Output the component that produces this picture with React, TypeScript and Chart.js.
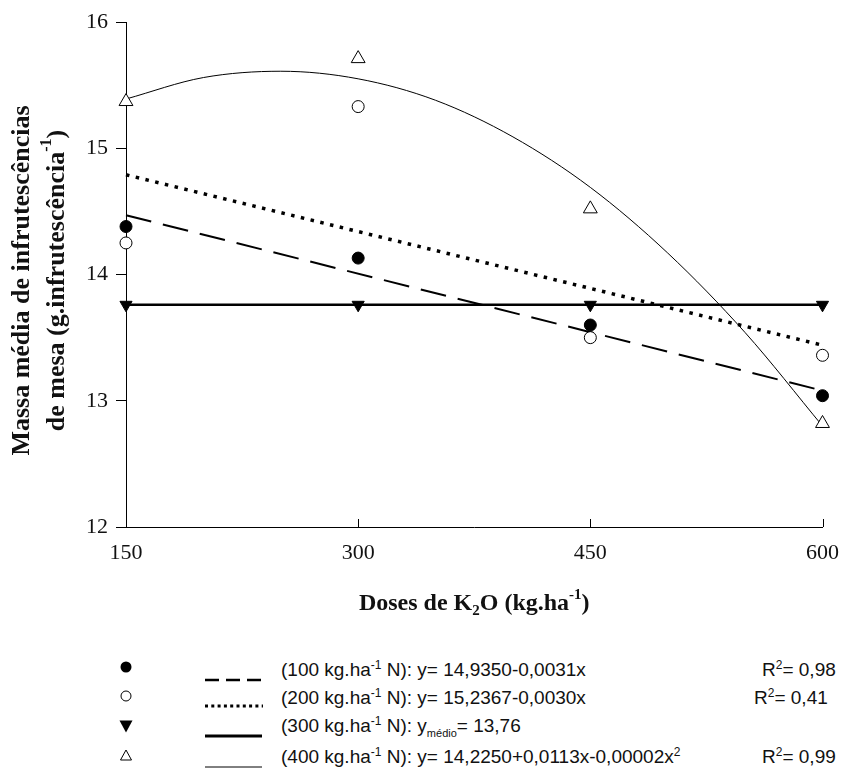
import React, { useEffect, useRef } from 'react';
import { Chart, registerables } from 'chart.js';
Chart.register(...registerables);

// ---- data ----
const doses = [150, 300, 450, 600];
const obs100N = [14.38, 14.13, 13.6, 13.04];
const obs200N = [14.25, 15.33, 13.5, 13.36];
const obs300N = [13.76, 13.76, 13.76, 13.76];
const obs400N = [15.37, 15.71, 14.52, 12.82];

const fitLineX = [150, 600];
const fit100N = [14.47, 13.08];
const fit200N = [14.79, 13.44];
const fit300N = [13.76, 13.76];
const fitCurveX = [150, 200, 250, 300, 350, 400, 450, 500, 550, 600];
const fit400N = [15.39, 15.56, 15.61, 15.55, 15.38, 15.09, 14.69, 14.17, 13.54, 12.8];

const xTickValues = [150, 300, 450, 600];
const yTickValues = [12, 13, 14, 15, 16];

const SERIF = "'Liberation Serif', 'Times New Roman', serif";
const SANS = "'Liberation Sans', Arial, sans-serif";

type Seg = { t: string; k?: 'sup' | 'sub' };

function drawRich(ctx: CanvasRenderingContext2D, segs: Seg[], size: number, cx: number, cy: number, rot: number) {
  ctx.save();
  ctx.translate(cx, cy);
  ctx.rotate(rot);
  ctx.textBaseline = 'middle';
  ctx.textAlign = 'left';
  ctx.fillStyle = '#111';
  const fontFor = (s: Seg) => `bold ${s.k ? Math.round(size * 0.62) : size}px ${SERIF}`;
  let total = 0;
  segs.forEach((s) => {
    ctx.font = fontFor(s);
    total += ctx.measureText(s.t).width;
  });
  let x = -total / 2;
  segs.forEach((s) => {
    ctx.font = fontFor(s);
    const dy = s.k === 'sup' ? -size * 0.38 : s.k === 'sub' ? size * 0.28 : 0;
    ctx.fillText(s.t, x, dy);
    x += ctx.measureText(s.t).width;
  });
  ctx.restore();
}

const decor = {
  id: 'decor',
  afterDraw(chart: any) {
    const ctx = chart.ctx as CanvasRenderingContext2D;
    const xs = chart.scales.x;
    const ys = chart.scales.y;
    ctx.save();
    ctx.strokeStyle = '#000';
    ctx.lineWidth = 1;
    xTickValues.forEach((v) => {
      const px = Math.round(xs.getPixelForValue(v)) + 0.5;
      ctx.beginPath();
      ctx.moveTo(px, ys.bottom);
      ctx.lineTo(px, ys.bottom - 8);
      ctx.stroke();
    });
    ctx.restore();
    const midY = (ys.top + ys.bottom) / 2 + 6;
    drawRich(ctx, [{ t: 'Massa média de infrutescências' }], 26, 22, midY, -Math.PI / 2);
    drawRich(ctx, [{ t: 'de mesa (g.infrutescência' }, { t: '-1', k: 'sup' }, { t: ')' }], 26, 57, midY, -Math.PI / 2);
    drawRich(
      ctx,
      [{ t: 'Doses de K' }, { t: '2', k: 'sub' }, { t: 'O (kg.ha' }, { t: '-1', k: 'sup' }, { t: ')' }],
      24,
      (xs.left + xs.right) / 2,
      604,
      0
    );
  },
};

function pts(xv: number[], yv: number[]) {
  return xv.map((x, i) => ({ x, y: yv[i] }));
}

function ChartView() {
  const ref = useRef<HTMLCanvasElement | null>(null);
  useEffect(() => {
    if (!ref.current) return;
    const lineBase = { showLine: true, pointRadius: 0, borderColor: '#000', fill: false, order: 2, clip: false as any };
    const chart = new Chart(ref.current, {
      type: 'scatter',
      data: {
        datasets: [
          { ...lineBase, label: 'fit100', data: pts(fitLineX, fit100N), borderWidth: 2, borderDash: [26, 12] },
          { ...lineBase, label: 'fit200', data: pts(fitLineX, fit200N), borderWidth: 3.5, borderDash: [3.5, 6.5] },
          { ...lineBase, label: 'fit300', data: pts(fitLineX, fit300N), borderWidth: 2.5 },
          { ...lineBase, label: 'fit400', data: pts(fitCurveX, fit400N), borderWidth: 1, cubicInterpolationMode: 'monotone' },
          { label: '100N', data: pts(doses, obs100N), pointStyle: 'circle', pointRadius: 6, backgroundColor: '#000', borderColor: '#000', borderWidth: 1, order: 0, clip: false as any },
          { label: '200N', data: pts(doses, obs200N), pointStyle: 'circle', pointRadius: 6, backgroundColor: '#fff', borderColor: '#000', borderWidth: 1, order: 0, clip: false as any },
          { label: '300N', data: pts(doses, obs300N), pointStyle: 'triangle', pointRotation: 180, pointRadius: 7, backgroundColor: '#000', borderColor: '#000', borderWidth: 1, order: 0, clip: false as any },
          { label: '400N', data: pts(doses, obs400N), pointStyle: 'triangle', pointRadius: 8, backgroundColor: '#fff', borderColor: '#000', borderWidth: 1, order: 0, clip: false as any },
        ] as any,
      },
      options: {
        animation: false,
        responsive: false,
        events: [],
        layout: { padding: { top: 22, right: 19, left: 0, bottom: 0 } },
        plugins: { legend: { display: false }, tooltip: { enabled: false }, title: { display: false } },
        scales: {
          x: {
            type: 'linear',
            min: 150,
            max: 600,
            afterBuildTicks: (s: any) => { s.ticks = xTickValues.map((v) => ({ value: v })); },
            afterFit: (s: any) => { s.height = 113; },
            ticks: { font: { family: SERIF, size: 22 }, color: '#111', padding: 13, maxRotation: 0, autoSkip: false },
            grid: { display: true, drawOnChartArea: false, drawTicks: false, color: '#000' },
            border: { display: true, color: '#000', width: 1 },
          },
          y: {
            type: 'linear',
            min: 12,
            max: 16,
            afterBuildTicks: (s: any) => { s.ticks = yTickValues.map((v) => ({ value: v })); },
            afterFit: (s: any) => { s.width = 126; },
            ticks: { font: { family: SERIF, size: 22 }, color: '#111', padding: 8, autoSkip: false },
            grid: { display: true, drawOnChartArea: false, drawTicks: true, tickLength: 10, color: '#000' },
            border: { display: true, color: '#000', width: 1 },
          },
        },
      },
      plugins: [decor],
    });
    return () => chart.destroy();
  }, []);
  return <canvas ref={ref} width={852} height={640} style={{ display: 'block' }} />;
}

const rowText: React.CSSProperties = { position: 'absolute', fontFamily: SANS, fontSize: 19, color: '#111', whiteSpace: 'nowrap', lineHeight: '20px' };
const supS: React.CSSProperties = { fontSize: 12, position: 'relative', top: -7 };

function Marker({ kind, cy }: { kind: string; cy: number }) {
  const cx = 126;
  let el: React.ReactNode = null;
  if (kind === 'fc') el = <circle cx={8} cy={8} r={5.5} fill="#000" />;
  if (kind === 'oc') el = <circle cx={8} cy={8} r={5} fill="#fff" stroke="#000" strokeWidth={1} />;
  if (kind === 'dt') el = <polygon points="1.5,2.5 14.5,2.5 8,14.5" fill="#000" />;
  if (kind === 'ot') el = <polygon points="2.5,13 13.5,13 8,3" fill="#fff" stroke="#000" strokeWidth={1} />;
  return (
    <svg width={16} height={16} style={{ position: 'absolute', left: cx - 8, top: cy - 8 }}>
      {el}
    </svg>
  );
}

function Sample({ kind, cy }: { kind: string; cy: number }) {
  let el: React.ReactNode = null;
  if (kind === 'dash') el = <line x1={0} y1={5} x2={57} y2={5} stroke="#000" strokeWidth={2.5} strokeDasharray="14 7" />;
  if (kind === 'dot') el = <line x1={0} y1={5} x2={58} y2={5} stroke="#000" strokeWidth={3} strokeDasharray="3 3.3" />;
  if (kind === 'thick') el = <line x1={0} y1={5} x2={57} y2={5} stroke="#000" strokeWidth={3} />;
  if (kind === 'thin') el = <line x1={0} y1={5} x2={57} y2={5} stroke="#000" strokeWidth={1} />;
  return (
    <svg width={58} height={10} style={{ position: 'absolute', left: 205, top: cy - 5 }}>
      {el}
    </svg>
  );
}

export default function App() {
  const markerY = [667, 696, 726, 755];
  const lineY = [680, 706, 736, 767];
  const textY = [670, 698, 726, 757];
  return (
    <div style={{ position: 'absolute', left: 0, top: 0, width: 852, height: 778, background: '#fff', overflow: 'hidden' }}>
      <ChartView />
      <Marker kind="fc" cy={markerY[0]} />
      <Marker kind="oc" cy={markerY[1]} />
      <Marker kind="dt" cy={markerY[2]} />
      <Marker kind="ot" cy={markerY[3]} />
      <Sample kind="dash" cy={lineY[0]} />
      <Sample kind="dot" cy={lineY[1]} />
      <Sample kind="thick" cy={lineY[2]} />
      <Sample kind="thin" cy={lineY[3]} />
      <div style={{ ...rowText, left: 281, top: textY[0] - 10 }}>
        (100 kg.ha<span style={supS}>-1</span> N): y= 14,9350-0,0031x
      </div>
      <div style={{ ...rowText, left: 762, top: textY[0] - 10 }}>
        R<span style={supS}>2</span>= 0,98
      </div>
      <div style={{ ...rowText, left: 281, top: textY[1] - 10 }}>
        (200 kg.ha<span style={supS}>-1</span> N): y= 15,2367-0,0030x
      </div>
      <div style={{ ...rowText, left: 754, top: textY[1] - 10 }}>
        R<span style={supS}>2</span>= 0,41
      </div>
      <div style={{ ...rowText, left: 281, top: textY[2] - 10 }}>
        (300 kg.ha<span style={supS}>-1</span> N): y<span style={{ fontSize: 11, position: 'relative', top: 5 }}>médio</span>= 13,76
      </div>
      <div style={{ ...rowText, left: 281, top: textY[3] - 10 }}>
        (400 kg.ha<span style={supS}>-1</span> N): y= 14,2250+0,0113x-0,00002x<span style={supS}>2</span>
      </div>
      <div style={{ ...rowText, left: 762, top: textY[3] - 10 }}>
        R<span style={supS}>2</span>= 0,99
      </div>
    </div>
  );
}
